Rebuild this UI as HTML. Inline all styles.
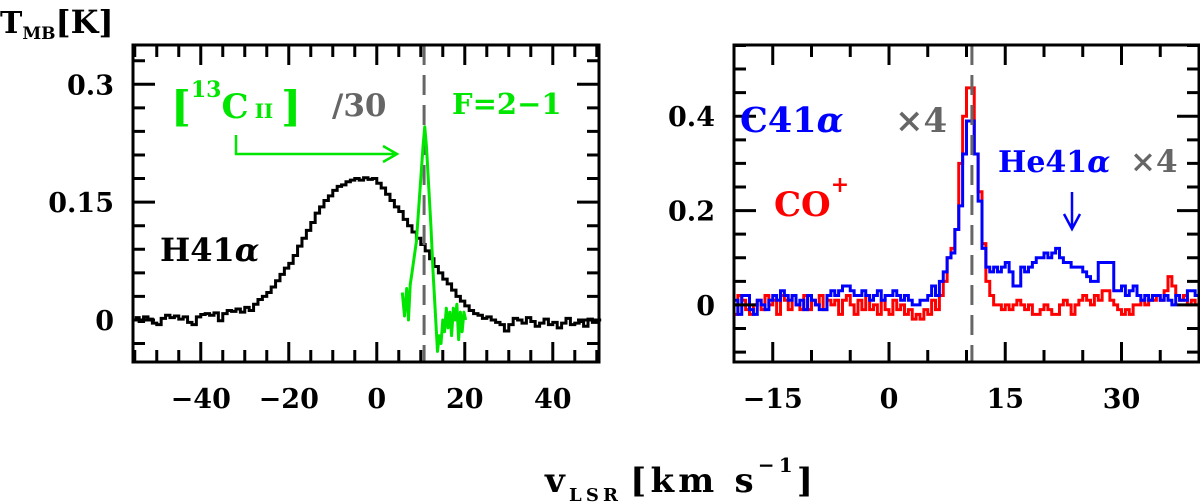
<!DOCTYPE html>
<html><head><meta charset="utf-8"><style>
html,body{margin:0;padding:0;background:#fff;}
svg{display:block;}
text{font-family:"DejaVu Serif","Liberation Serif",serif;font-weight:bold;}
</style></head><body>
<svg id="fig" width="1200" height="503" viewBox="0 0 1200 503" xmlns="http://www.w3.org/2000/svg">
<text x="0" y="33" font-size="30" fill="#000">T<tspan font-size="17" dy="6">MB</tspan><tspan dy="-6" font-size="32">[K]</tspan></text>
<text x="545" y="492" font-size="34" fill="#000" textLength="268" lengthAdjust="spacing">v<tspan font-size="18" dy="9">LSR</tspan><tspan dy="-9" dx="8">[km  s</tspan><tspan font-size="20" dy="-20">−1</tspan><tspan dy="20">]</tspan></text>
<g id="left"></g>
<g id="right"></g>
</svg>
<script>
// ---- Left panel data ----
const h41Start = -55, h41Step = 1;
const h41Values = [0.003,-0.002,0.004,0.001,-0.004,-0.006,0.002,0.006,0.003,0.005,
0.001,0.004,-0.003,-0.006,0.004,0.007,0.008,0.006,0.009,-0.001,
0.008,0.012,0.011,0.014,0.010,0.016,0.012,0.020,0.026,0.030,
0.035,0.042,0.050,0.058,0.066,0.072,0.082,0.094,0.104,0.114,
0.124,0.136,0.144,0.152,0.158,0.165,0.170,0.172,0.176,0.178,
0.180,0.178,0.181,0.179,0.180,0.174,0.168,0.160,0.152,0.144,
0.138,0.128,0.120,0.112,0.104,0.096,0.088,0.078,0.068,0.060,
0.052,0.046,0.038,0.030,0.024,0.018,0.012,0.008,0.006,0.002,
0.004,0.000,-0.003,-0.006,-0.014,-0.006,0.002,0.000,-0.004,0.003,
-0.002,-0.008,-0.004,0.001,-0.006,-0.003,-0.010,-0.004,0.002,-0.006,
-0.004,-0.002,-0.008,0.001,-0.003,0.000];
const c13Velocities = [5.8,6.3,6.8,7.2,7.6,8.0,8.5,9.0,9.5,10.0,10.5,10.9,11.3,11.8,12.3,12.8,13.3,13.8,14.2,14.6,15.0,15.4,15.8,16.2,16.6,17.0,17.4,17.8,18.2,18.6,19.0,19.4,19.8,20.2];
const c13Values = [0.035,0.005,0.04,0.0,0.045,0.06,0.08,0.10,0.14,0.18,0.22,0.246,0.22,0.17,0.12,0.06,0.01,-0.04,-0.02,-0.03,0.0,-0.015,0.015,-0.01,0.01,-0.02,0.015,0.0,0.02,-0.025,0.01,-0.015,0.01,0.0];
const leftXTicks = [-40,-20,0,20,40];
const leftYTicks = [0,0.15,0.3];
const leftYTickLabels = ["0","0.15","0.3"];
const leftRefVelocity = 10.75;
// ---- Right panel data ----
const rrlStart = -20, rrlStep = 0.5;
const c41Values = [0.01,-0.02,0.02,0.02,-0.01,-0.02,0.01,0.00,-0.01,0.01,
0.02,0.01,0.03,0.02,0.01,0.02,0.00,0.01,-0.01,0.02,
0.01,0.00,-0.01,-0.01,0.02,0.03,0.02,0.03,0.04,0.04,
0.03,0.02,0.02,0.03,0.02,0.01,0.02,0.03,0.01,0.02,
0.02,0.03,0.02,0.01,0.02,0.01,0.00,0.00,0.01,0.01,
0.02,0.04,0.02,0.05,0.07,0.10,0.11,0.16,0.21,0.32,
0.39,0.39,0.32,0.22,0.12,0.08,0.07,0.08,0.07,0.08,
0.09,0.07,0.04,0.04,0.08,0.07,0.08,0.09,0.10,0.10,
0.11,0.10,0.11,0.12,0.10,0.09,0.09,0.08,0.08,0.08,
0.07,0.06,0.05,0.05,0.09,0.09,0.09,0.09,0.03,0.03,
0.04,0.02,0.03,0.04,0.02,0.01,0.02,0.01,0.02,0.02,
0.01,0.02,0.01,0.00,0.02,0.01,0.01,0.03,0.03,0.02,0.02];
const coPlusValues = [-0.02,0.02,0.01,-0.01,-0.02,0.00,0.01,-0.01,0.02,0.00,
0.01,-0.02,0.02,0.01,-0.01,0.02,0.00,-0.01,0.02,-0.01,
0.01,0.00,0.02,-0.01,0.01,0.00,0.01,-0.02,0.01,0.02,
0.00,-0.02,0.01,-0.01,0.02,-0.01,0.00,-0.02,0.01,-0.01,
-0.02,0.01,-0.01,0.00,-0.02,-0.01,-0.03,-0.02,-0.03,-0.01,
-0.02,0.01,-0.01,0.02,0.05,0.10,0.12,0.16,0.30,0.40,
0.46,0.46,0.32,0.24,0.13,0.05,0.02,0.00,0.00,-0.01,
0.00,-0.01,0.00,0.01,0.00,-0.01,0.00,-0.02,-0.02,-0.01,
0.00,-0.01,-0.02,-0.02,0.00,0.01,0.00,-0.02,0.00,0.01,
0.02,0.01,0.00,0.02,0.01,0.03,0.03,0.01,0.00,-0.01,
-0.02,-0.01,-0.02,0.00,0.00,0.01,0.00,0.01,0.01,0.02,
0.01,0.03,0.06,0.04,0.02,0.01,0.02,0.00,0.01,0.00,0.00];
const rightXTicks = [-15,0,15,30];
const rightYTicks = [0,0.2,0.4];
const rightYTickLabels = ["0","0.2","0.4"];
const rightRefVelocity = 10.7;

const NS = "http://www.w3.org/2000/svg";
function mk(parent, tag, attrs){const e=document.createElementNS(NS,tag);for(const k in attrs)e.setAttribute(k,attrs[k]);parent.appendChild(e);return e;}
function lin(d0,d1,r0,r1){return v=>r0+(v-d0)*(r1-r0)/(d1-d0);}

function frame(g, L, R, T, B, sx, sy, xMinor, xMajor, yMinor, yMajor, xr, yr){
  let d="";
  for(let v=Math.ceil(xr[0]/xMinor)*xMinor; v<=xr[1]+1e-9; v+=xMinor){
    const x=sx(v); const major=Math.abs(v/xMajor-Math.round(v/xMajor))<1e-6; const len=major?20:12;
    d+=`M${x},${B}V${B-len}M${x},${T}V${T+len}`;
  }
  for(let v=Math.ceil(yr[0]/yMinor-1e-9)*yMinor; v<=yr[1]+1e-9; v+=yMinor){
    const y=sy(v); const major=Math.abs(v/yMajor-Math.round(v/yMajor))<1e-6; const len=major?22:12;
    d+=`M${L},${y}H${L+len}M${R},${y}H${R-len}`;
  }
  const t=mk(g,"path",{d:d,stroke:"#000","stroke-width":3,fill:"none"});
  
  
  const r=mk(g,"rect",{x:L,y:T,width:R-L,height:B-T,fill:"none",stroke:"#000","stroke-width":3});
  
  
}
function stepPath(start, step, vals, sx, sy){
  let d="";
  vals.forEach((v,i)=>{const x0=sx(start+i*step), x1=sx(start+(i+1)*step), y=sy(v);
    d+=(i===0?`M${x0},${y}`:`V${y}`)+`H${x1}`;});
  return d;
}
function txt(g, x, y, s, attrs){const t=mk(g,"text",Object.assign({x:x,y:y},attrs||{}));t.innerHTML=s;return t;}

// LEFT
(function(){
  const g=document.getElementById("left");
  const L=133,R=599,T=45,B=362;
  const xr=[-55.4,50.5], yr=[-0.0535,0.350];
  const sx=lin(xr[0],xr[1],L,R), sy=lin(yr[0],yr[1],B,T);
  const p1=mk(g,"path",{d:stepPath(h41Start,h41Step,h41Values,sx,sy),stroke:"#000","stroke-width":3,fill:"none"});
  
  
  const ln=mk(g,"line",{x1:sx(leftRefVelocity),x2:sx(leftRefVelocity),y1:T,y2:B,stroke:"#666","stroke-width":3,"stroke-dasharray":"20,10"});
  
  
  let d="";c13Velocities.forEach((v,i)=>{d+=(i?"L":"M")+sx(v)+","+sy(c13Values[i]);});
  const p2=mk(g,"path",{d:d,stroke:"#00e600","stroke-width":3,fill:"none","stroke-linejoin":"round"});
  
  
  frame(g,L,R,T,B,sx,sy,5,20,0.03,0.15,xr,yr);
  leftXTicks.forEach(v=>{const t=txt(g,sx(v),408,String(v).replace("-","−"),{"font-size":27,"text-anchor":"middle"});
    
    });
  leftYTicks.forEach((v,i)=>{const t=txt(g,114,sy(v)+10,leftYTickLabels[i],{"font-size":27,"text-anchor":"end"});
    
    });
  const a=txt(g,160,261,'H41<tspan font-style="italic">α</tspan>',{"font-size":32});
  
  
  const lab=txt(g,171,121,'[<tspan font-size="22" dy="-24">13</tspan><tspan font-size="34" dy="21">C</tspan><tspan font-size="20" dx="6">II</tspan><tspan dy="3" dx="8">]</tspan>',{"font-size":42,fill:"#00e600","font-weight":"normal"});
  
  
  const s30=txt(g,332,116,"/30",{"font-size":31,fill:"#666","font-weight":"normal"});
  
  
  const f=txt(g,452,114,"F=2−1",{"font-size":29,fill:"#00e600"});
  
  
  const ar=mk(g,"path",{d:"M236,135V154H396M383,146L397,154L383,162",stroke:"#00e600","stroke-width":2.5,fill:"none"});
  
  
})();

// RIGHT
(function(){
  const g=document.getElementById("right");
  const L=734,R=1199,T=45,B=362;
  const xr=[-20,40], yr=[-0.121,0.551];
  const sx=lin(xr[0],xr[1],L,R), sy=lin(yr[0],yr[1],B,T);
  const pr=mk(g,"path",{d:stepPath(rrlStart,rrlStep,coPlusValues,sx,sy),stroke:"#ff0000","stroke-width":3,fill:"none"});
  
  
  const pb=mk(g,"path",{d:stepPath(rrlStart,rrlStep,c41Values,sx,sy),stroke:"#0000ff","stroke-width":3,fill:"none"});
  
  
  const ln=mk(g,"line",{x1:sx(rightRefVelocity),x2:sx(rightRefVelocity),y1:T,y2:B,stroke:"#666","stroke-width":3,"stroke-dasharray":"20,10"});
  
  
  frame(g,L,R,T,B,sx,sy,5,15,0.05,0.2,xr,yr);
  rightXTicks.forEach(v=>{const t=txt(g,sx(v),408,String(v).replace("-","−"),{"font-size":27,"text-anchor":"middle"});
    
    });
  rightYTicks.forEach((v,i)=>{const t=txt(g,715,sy(v)+10,rightYTickLabels[i],{"font-size":27,"text-anchor":"end"});
    
    });
  const c=txt(g,740,132,'C41<tspan font-style="italic">α</tspan>',{"font-size":35,fill:"#0000ff"});
  
  
  const x4=txt(g,895,132,"×4",{"font-size":34,fill:"#666","font-weight":"normal"});
  
  
  const co=txt(g,774,216,'CO<tspan font-size="22" dy="-24">+</tspan>',{"font-size":34,fill:"#ff0000"});
  
  
  const he=txt(g,998,172,'He41<tspan font-style="italic">α</tspan>',{"font-size":30,fill:"#0000ff"});
  
  
  const hx=txt(g,1130,172,"×4",{"font-size":31,fill:"#666","font-weight":"normal"});
  
  
  const ar=mk(g,"path",{d:"M1072,192V228M1064,214L1072,229L1080,214",stroke:"#0000ff","stroke-width":2.5,fill:"none"});
  
  
})();
</script>
</body></html>
